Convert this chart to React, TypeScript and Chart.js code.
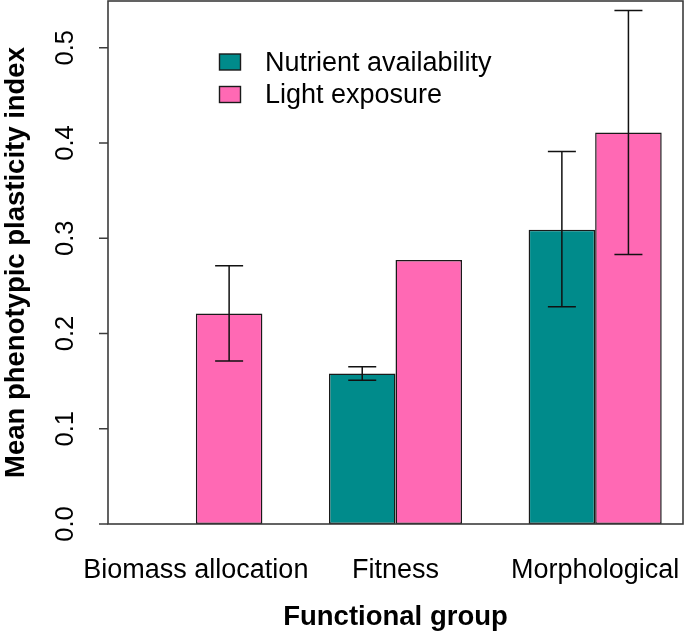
import React, { useEffect, useRef } from "react";
import { Chart, registerables } from "chart.js";

Chart.register(...registerables);

// ---- data ----
const categories = ["Biomass allocation", "Fitness", "Morphological"];
const seriesNames = ["Nutrient availability", "Light exposure"];
const nutrientMean: (number | null)[] = [null, 0.158, 0.309];
const nutrientLow: (number | null)[] = [null, 0.151, 0.228];
const nutrientHigh: (number | null)[] = [null, 0.165, 0.391];
const lightMean: (number | null)[] = [0.221, 0.277, 0.411];
const lightLow: (number | null)[] = [0.171, null, 0.283];
const lightHigh: (number | null)[] = [0.271, null, 0.539];
const yTicks = [0, 0.1, 0.2, 0.3, 0.4, 0.5];
const yTickLabels = ["0.0", "0.1", "0.2", "0.3", "0.4", "0.5"];
const xTitle = "Functional group";
const yTitle = "Mean phenotypic plasticity index";
const seriesColors = ["#008B8B", "#FF69B4"];

// R barplot layout units: each group = 2 bars + 1 space
const groupPos = categories.map((_, i) => 2 + 3 * i);

const FONT = '"Liberation Sans", Arial, Helvetica, sans-serif';

const decorPlugin = {
  id: "decor",
  afterDatasetsDraw(chart: any) {
    const ctx: CanvasRenderingContext2D = chart.ctx;
    const { left, right, top, bottom } = chart.chartArea;
    const xs = chart.scales.x;
    const ys = chart.scales.y;
    ctx.save();

    // error bars
    const errs = [
      [nutrientLow, nutrientHigh],
      [lightLow, lightHigh],
    ];
    ctx.strokeStyle = "#111";
    ctx.lineWidth = 1.5;
    errs.forEach(([lo, hi], d) => {
      const meta = chart.getDatasetMeta(d);
      lo.forEach((l, i) => {
        const h = hi[i];
        if (l == null || h == null) return;
        const el: any = meta.data[i];
        const x = el.x;
        const y1 = ys.getPixelForValue(l);
        const y2 = ys.getPixelForValue(h);
        ctx.beginPath();
        ctx.moveTo(x, y1);
        ctx.lineTo(x, y2);
        ctx.moveTo(x - 14, y1);
        ctx.lineTo(x + 14, y1);
        ctx.moveTo(x - 14, y2);
        ctx.lineTo(x + 14, y2);
        ctx.stroke();
      });
    });

    // box
    ctx.strokeStyle = "#3c3c3c";
    ctx.lineWidth = 1.6;
    ctx.strokeRect(left, top, right - left, bottom - top);

    // y ticks
    ctx.beginPath();
    yTicks.forEach((v) => {
      const y = ys.getPixelForValue(v);
      ctx.moveTo(left - 9, y);
      ctx.lineTo(left, y);
    });
    ctx.stroke();

    ctx.fillStyle = "#000";
    ctx.font = `25.5px ${FONT}`;
    ctx.textAlign = "center";
    ctx.textBaseline = "alphabetic";
    yTicks.forEach((v, i) => {
      const y = ys.getPixelForValue(v);
      ctx.save();
      ctx.translate(73, y);
      ctx.rotate(-Math.PI / 2);
      ctx.fillText(yTickLabels[i], 0, 0);
      ctx.restore();
    });

    // x category labels
    ctx.font = `27px ${FONT}`;
    categories.forEach((c, i) => {
      const x = xs.getPixelForValue(groupPos[i]);
      ctx.fillText(c, x, 578);
    });

    // axis titles
    ctx.font = `bold 27.5px ${FONT}`;
    ctx.fillText(xTitle, (left + right) / 2, 625);
    ctx.save();
    ctx.translate(24, (top + bottom) / 2);
    ctx.rotate(-Math.PI / 2);
    ctx.fillText(yTitle, 0, 0);
    ctx.restore();

    // legend
    ctx.font = `27px ${FONT}`;
    ctx.textAlign = "left";
    seriesNames.forEach((name, i) => {
      const by = 54 + i * 32.5;
      ctx.fillStyle = seriesColors[i];
      ctx.fillRect(219.5, by, 21, 16);
      ctx.strokeStyle = "#1a1a1a";
      ctx.lineWidth = 1.4;
      ctx.strokeRect(219.5, by, 21, 16);
      ctx.fillStyle = "#000";
      ctx.fillText(name, 265, by + 16.5);
    });

    ctx.restore();
  },
};

export default function App() {
  const ref = useRef<HTMLCanvasElement | null>(null);

  useEffect(() => {
    if (!ref.current) return;
    const chart = new Chart(ref.current, {
      type: "bar",
      data: {
        datasets: [
          {
            label: seriesNames[0],
            data: categories.map((_, i) => ({ x: groupPos[i], y: nutrientMean[i] })) as any,
            backgroundColor: seriesColors[0],
            borderColor: "#1a1a1a",
            borderWidth: 1.5,
            borderSkipped: false,
          },
          {
            label: seriesNames[1],
            data: categories.map((_, i) => ({ x: groupPos[i], y: lightMean[i] })) as any,
            backgroundColor: seriesColors[1],
            borderColor: "#1a1a1a",
            borderWidth: 1.5,
            borderSkipped: false,
          },
        ],
      },
      options: {
        responsive: false,
        animation: false,
        devicePixelRatio: 1,
        layout: { padding: { left: 108, right: 2, top: 1, bottom: 111 } },
        datasets: { bar: { categoryPercentage: 2 / 3, barPercentage: 1 } },
        plugins: { legend: { display: false }, tooltip: { enabled: false } },
        scales: {
          x: {
            type: "linear",
            min: 0.68,
            max: 9.32,
            offset: false,
            display: false,
            afterBuildTicks: (scale: any) => {
              scale.ticks = groupPos.map((v) => ({ value: v }));
            },
          },
          y: {
            type: "linear",
            min: 0,
            max: 0.549,
            display: false,
          },
        },
      },
      plugins: [decorPlugin],
    });
    return () => chart.destroy();
  }, []);

  return (
    <div style={{ position: "absolute", left: 0, top: 0, width: 685, height: 635, background: "#fff" }}>
      <canvas ref={ref} width={685} height={635} style={{ display: "block" }} />
    </div>
  );
}
